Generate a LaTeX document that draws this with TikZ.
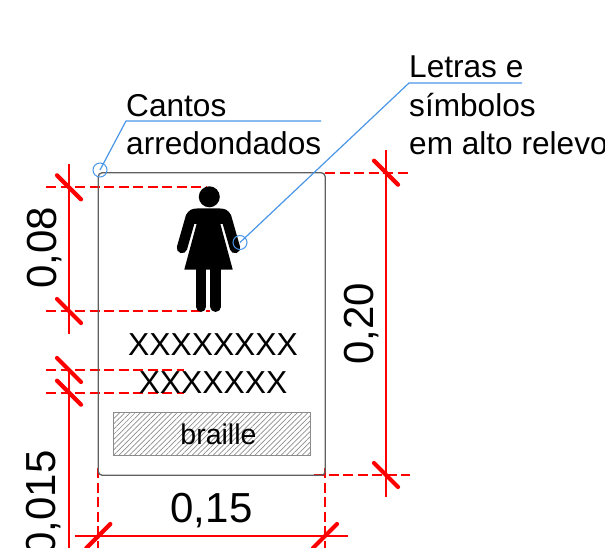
\documentclass[tikz,border=0pt]{standalone}
\usepackage{fontspec}
\setmainfont{Liberation Sans}
\usetikzlibrary{patterns.meta}
\definecolor{leaderblue}{RGB}{74,150,230}
\definecolor{plategrey}{RGB}{95,95,95}
\definecolor{hatchgrey}{RGB}{140,140,140}
\tikzset{
	callout/.style={inner sep=0pt,anchor=base west,font=\fontsize{31.6}{38}\selectfont},
	plaque/.style={inner sep=0pt,anchor=base,font=\fontsize{31.8}{38}\selectfont},
	dimtext/.style={inner sep=0pt,anchor=base,font=\fontsize{42}{50}\selectfont},
	dimline/.style={draw=red,line width=2pt},
	dimtick/.style={draw=red,line width=4.2pt,line cap=round},
	witness/.style={draw=red,line width=1.8pt,dash pattern=on 10pt off 4.5pt},
	leader/.style={draw=leaderblue,line width=1.2pt},
	ringmark/.style={circle,draw=leaderblue,line width=1pt,inner sep=0pt,minimum size=14pt},
	limb/.style={draw=black,line width=10.5pt,line cap=round}
}
\begin{document}
\begin{tikzpicture}[x=1pt,y=-1pt]
	\useasboundingbox (0,0) rectangle (605,548);
	\clip (0,0) rectangle (605,548);
	% witness lines
	\coordinate (FigTop) at (69,187.3);
	\coordinate (FigBot) at (69,311);
	\coordinate (TxtTop) at (69,370);
	\coordinate (TxtBot) at (69,392.7);
	\coordinate (PlateTop) at (386,172.7);
	\coordinate (PlateBot) at (386,475);
	\coordinate (PlateLeft) at (98.3,536);
	\coordinate (PlateRight) at (325,536);
	\path[witness] (46,187.3) -- (207,187.3);
	\path[witness] (46,311) -- (210,311);
	\path[witness] (46,370) -- (184,370);
	\path[witness] (46,392.7) -- (184,392.7);
	\path[witness] (325,172.7) -- (410,172.7);
	\path[witness] (314,475) -- (410,475);
	\path[witness] (98.3,468) -- (98.3,548);
	\path[witness] (325,468) -- (325,548);
	% plate
	\node (Plate) at (211.7,324) [rectangle,draw=plategrey,line width=1.3pt,rounded corners=4pt,minimum width=227pt,minimum height=302.5pt] {};
	\node (Braille) at (211.7,434) [rectangle,draw=hatchgrey,line width=0.8pt,minimum width=197pt,minimum height=42.5pt,pattern={Lines[angle=45,distance=3.7pt,line width=0.7pt]},pattern color=hatchgrey] {};
	\node [inner sep=0pt,anchor=base,font=\fontsize{28.5}{34}\selectfont] at (218.5,444) {braille};
	\node [plaque] at (213,355) {XXXXXXXX};
	\node [plaque] at (213,393) {XXXXXXX};
	% figure
	\node (Head) at (209.3,196.8) [circle,fill=black,inner sep=0pt,minimum size=21pt] {};
	\fill[black] (186,216) .. controls (188,210) and (192,208.5) .. (197,208.5) -- (220,208.5) .. controls (225,208.5) and (229,210) .. (231,216) -- (226,224) -- (220.4,224) -- (232.7,269.5) -- (184.3,269.5) -- (196.6,224) -- (191,224) -- cycle;
	\path[limb] (191,216.5) -- (182,248);
	\path[limb] (226,216.5) -- (235,248);
	\path[limb] (201,268) -- (201,306.7);
	\path[limb] (215.7,268) -- (215.7,306.7);
	% dimensions
	\path[dimline] (69,164) -- (FigTop) -- (FigBot) -- (69,334);
	\path[dimline] (TxtTop) -- (TxtBot) -- (69,548);
	\path[dimline] (386,150) -- (PlateTop) -- (PlateBot) -- (386,497);
	\path[dimline] (75,536) -- (PlateLeft) -- (PlateRight) -- (348,536);
	\foreach \p in {FigTop,FigBot,TxtTop,TxtBot,PlateTop,PlateBot}
		\path[dimtick] (\p) ++(-12,-12) -- ++(24,24);
	\foreach \p in {PlateLeft,PlateRight}
		\path[dimtick] (\p) ++(-12,12) -- ++(24,-24);
	\node [dimtext,rotate=90] at (56,248) {0,08};
	\node [dimtext,rotate=90] at (373,324) {0,20};
	\node [dimtext,rotate=90] at (55,503) {0,015};
	\node [dimtext] at (211.5,522) {0,15};
	% leaders
	\node (CornerMark) at (100,170) [ringmark] {};
	\node (FigureMark) at (240,242.5) [ringmark] {};
	\coordinate (CantosKnee) at (126,121);
	\coordinate (CantosEnd) at (321,121);
	\coordinate (LetrasKnee) at (409,83);
	\coordinate (LetrasEnd) at (522,83);
	\path[leader] (CornerMark.center) -- (CantosKnee) -- (CantosEnd);
	\path[leader] (FigureMark.center) -- (LetrasKnee) -- (LetrasEnd);
	\node [callout] at (126,117) {Cantos};
	\node [callout] at (126,154.5) {arredondados};
	\node [callout] at (409,78) {Letras e};
	\node [callout] at (409,117) {símbolos};
	\node [callout] at (409,154.5) {em alto relevo};
\end{tikzpicture}
\end{document}
